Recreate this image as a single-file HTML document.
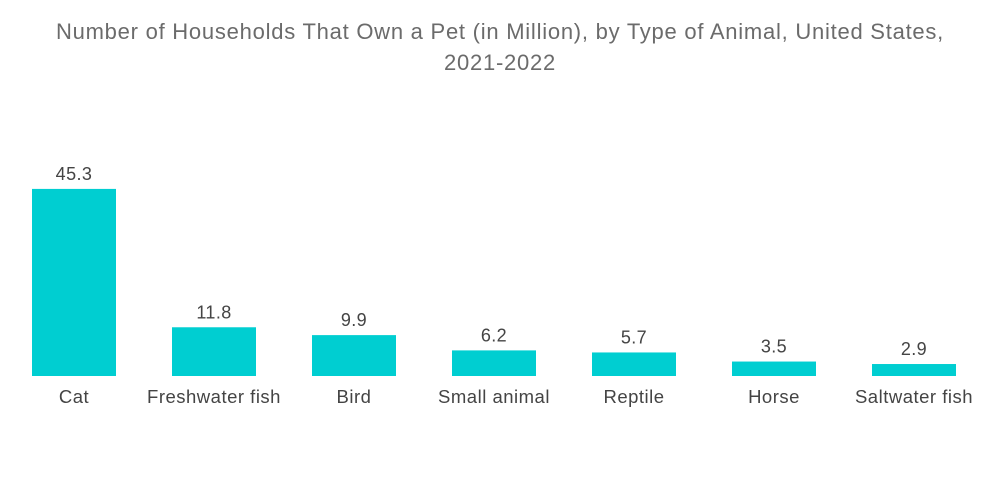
<!DOCTYPE html>
<html><head><meta charset="utf-8"><style>
html,body{margin:0;padding:0;background:#fff;width:1000px;height:504px;overflow:hidden;font-family:"Liberation Sans",sans-serif;}
#title{position:absolute;left:0;top:16px;width:1000px;text-align:center;color:#6b6b6b;font-size:22px;letter-spacing:0.75px;line-height:31px;}
</style></head><body>
<div id="title">Number of Households That Own a Pet (in Million), by Type of Animal, United States,<br>2021-2022</div>
<svg id="chart" width="1000" height="504" style="position:absolute;left:0;top:0"></svg>
<script>
const categories = ["Cat","Freshwater fish","Bird","Small animal","Reptile","Horse","Saltwater fish"];
const values = [45.3,11.8,9.9,6.2,5.7,3.5,2.9];
const valueLabels = ["45.3","11.8","9.9","6.2","5.7","3.5","2.9"];
const svg = document.getElementById('chart');
const NS = 'http://www.w3.org/2000/svg';
const baseY = 376, scaleY = v => baseY - v * 4.13;
const xLeft = i => 32 + i * 140, barW = 84;
categories.forEach((c, i) => {
  const r = document.createElementNS(NS, 'rect');
  
  
  r.setAttribute('x', xLeft(i)); r.setAttribute('y', scaleY(values[i]));
  r.setAttribute('width', barW); r.setAttribute('height', baseY - scaleY(values[i]));
  r.setAttribute('fill', '#00ced1');
  svg.appendChild(r);
  const t = document.createElementNS(NS, 'text');
  
  
  t.setAttribute('x', xLeft(i) + barW / 2); t.setAttribute('y', scaleY(values[i]) - 9);
  t.setAttribute('text-anchor', 'middle'); t.setAttribute('font-size', '18'); t.setAttribute('letter-spacing', '0.4'); t.setAttribute('fill', '#444');
  t.textContent = valueLabels[i];
  svg.appendChild(t);
  const l = document.createElementNS(NS, 'text');
  
  
  l.setAttribute('x', xLeft(i) + barW / 2); l.setAttribute('y', 403);
  l.setAttribute('text-anchor', 'middle'); l.setAttribute('font-size', '18.5'); l.setAttribute('letter-spacing', '0.5'); l.setAttribute('fill', '#444');
  l.textContent = c;
  svg.appendChild(l);
});
</script>
</body></html>
